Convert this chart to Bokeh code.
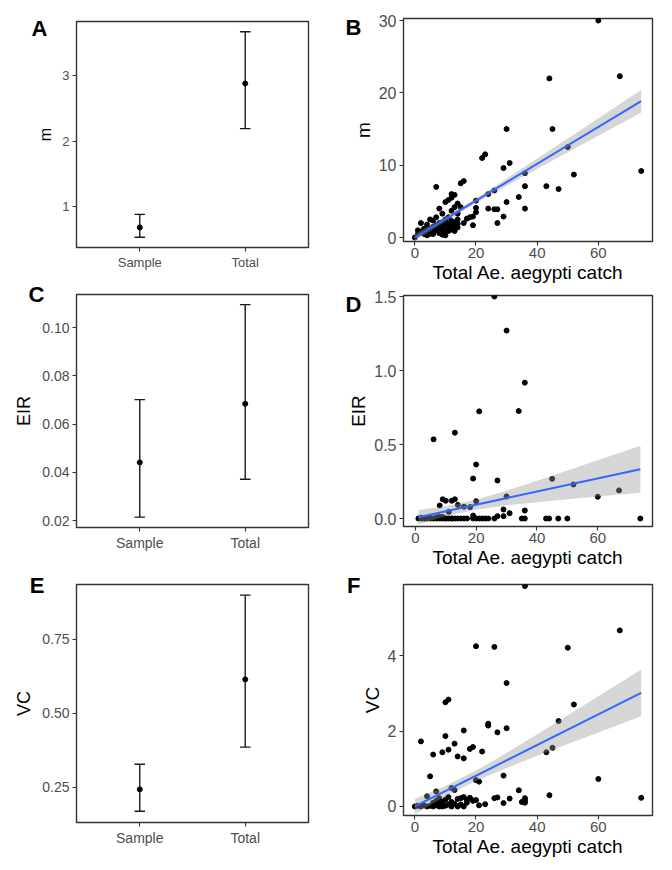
from bokeh.plotting import figure
from bokeh.models import Range1d, FixedTicker, PrintfTickFormatter, LinearAxis
from bokeh.layouts import row, column
from bokeh.embed import file_html
from bokeh.resources import INLINE

FONT = "Liberation Sans"
TICK_COLOR = "#4D4D4D"
FRAME = "#333333"

# ---------------- data: summary panels (A, C, E) ----------------
categories = ["Sample", "Total"]
cat_pos = [1, 2]

m_est = [0.68, 2.88]
m_low = [0.53, 2.19]
m_high = [0.88, 3.67]

eir_est = [0.0441, 0.0684]
eir_low = [0.0214, 0.0371]
eir_high = [0.0701, 0.1095]

vc_est = [0.243, 0.615]
vc_low = [0.169, 0.386]
vc_high = [0.328, 0.900]

# ---------------- data: scatter panels (B, D, F) ----------------
b_catch = [0, 1, 1, 2, 2, 3, 3, 3, 4, 4, 4, 5, 5, 5, 5, 6, 6, 6, 6, 7, 7, 7, 7, 8, 8, 8, 8, 8,
           9, 9, 9, 9, 9, 10, 10, 10, 10, 10, 11, 11, 11, 11, 11, 12, 12, 12, 12, 12, 12,
           13, 13, 13, 13, 13, 14, 14, 14, 14, 14, 15, 15, 16, 16, 17, 18, 19, 19, 20, 20, 20,
           22, 23, 24, 24, 26, 26, 27, 27, 29, 29, 30, 30, 31, 34, 36, 36, 36, 43, 44, 45, 47,
           50, 52, 60, 67, 74]
b_m = [0.0, 1.0, 0.5, 2.0, 0.8, 0.5, 1.2, 0.8, 1.0, 0.3, 1.8, 2.5, 1.2, 0.5, 0.9, 2.35, 0.5, 1.5, 0.9,
       7.0, 2.8, 1.0, 1.7, 4.0, 1.0, 2.0, 0.6, 1.4, 3.3, 2.1, 1.5, 0.9, 0.4, 4.9, 1.0, 2.5, 0.3, 1.8,
       5.2, 2.8, 1.4, 0.9, 1.9, 6.0, 5.5, 3.7, 1.1, 2.3, 1.6, 4.2, 2.1, 5.9, 1.5, 0.9,
       4.7, 3.3, 1.4, 2.5, 1.9, 7.5, 4.2, 7.8, 2.0, 2.6, 2.8, 2.9, 1.7, 3.5, 4.1, 5.1,
       11.0, 11.5, 4.0, 6.0, 3.9, 6.5, 3.9, 2.0, 2.9, 9.6, 4.9, 15.0, 10.3, 5.6, 4.0, 7.1, 8.9,
       7.1, 22.0, 15.0, 6.7, 12.5, 8.7, 30.0, 22.3, 9.2]

d_catch = [1, 2, 2, 3, 3, 4, 5, 5, 6, 6, 7, 7, 8, 8, 8, 9, 9, 9, 10, 10, 10, 11, 11, 12, 12, 12,
           13, 13, 13, 14, 14, 15, 16, 16, 17, 18, 19, 19, 19, 20, 20, 20, 21, 21, 22, 23, 24,
           26, 26, 27, 27, 29, 29, 30, 30, 31, 34, 35, 36, 36, 36, 43, 44, 45, 47, 50, 52, 60, 67, 74]
d_eir = [0.0, 0.0, 0.005, 0.0, 0.0, 0.0, 0.0, 0.005, 0.535, 0.0, 0.0, 0.008, 0.088, 0.0, 0.012,
         0.13, 0.0, 0.01, 0.12, 0.0, 0.0, 0.045, 0.0, 0.12, 0.0, 0.0, 0.58, 0.13, 0.0, 0.092, 0.0,
         0.0, 0.08, 0.0, 0.0, 0.077, 0.27, 0.02, 0.0, 0.365, 0.117, 0.0, 0.724, 0.0, 0.0, 0.0, 0.0,
         1.5, 0.0, 0.257, 0.016, 0.061, 0.016, 1.27, 0.149, 0.036, 0.726, 0.0, 0.918, 0.054, 0.0,
         0.0, 0.0, 0.268, 0.0, 0.0, 0.23, 0.147, 0.19, 0.0]

f_catch = [0, 1, 2, 2, 3, 4, 4, 5, 5, 6, 6, 6, 7, 7, 7, 8, 8, 8, 9, 9, 9, 10, 10, 10, 10,
           11, 11, 11, 11, 12, 12, 12, 13, 13, 13, 14, 14, 14, 15, 15, 16, 16, 16, 16, 17, 17, 18,
           18, 19, 19, 19, 20, 20, 20, 21, 21, 22, 23, 24, 24, 26, 26, 27, 27, 29, 29, 30, 30, 31,
           34, 35, 36, 36, 36, 36, 43, 44, 45, 47, 50, 52, 60, 67, 74]
f_vc = [0.0, 0.02, 0.0, 1.73, 0.03, 0.0, 0.27, 0.8, 0.02, 0.0, 1.38, 0.1, 0.4, 0.03, 0.15, 0.0,
        0.22, 0.08, 1.44, 0.0, 0.12, 1.87, 2.77, 0.02, 0.18, 2.84, 1.51, 0.05, 0.25, 0.49, 0.0,
        0.12, 0.44, 1.67, 0.07, 1.33, 0.0, 0.2, 0.22, 0.05, 2.02, 1.28, 0.0, 0.25, 0.1, 0.17, 1.53,
        0.23, 1.58, 0.16, 0.15, 4.26, 0.7, 0.17, 0.66, 0.03, 1.46, 0.06, 2.2, 2.15, 4.24, 0.22,
        0.24, 1.97, 0.82, 0.09, 3.28, 2.08, 0.21, 0.43, 0.12, 5.86, 0.15, 0.1, 0.22, 1.44, 0.3,
        1.56, 2.27, 4.22, 2.71, 0.73, 4.68, 0.23]

# fitted linear trends and 95% bands
b_fit_x = [0, 74]
b_fit_y = [0.0, 18.85]
b_band_x = [0, 10, 20, 30, 40, 50, 60, 74]
b_band_lo = [-0.49, 2.22, 4.76, 7.15, 9.47, 11.78, 14.07, 17.29]
b_band_hi = [0.49, 2.88, 5.42, 8.13, 10.91, 13.70, 16.49, 20.41]

d_fit_x = [1, 74]
d_fit_y = [0.009, 0.333]
d_band_x = [1, 10, 20, 30, 40, 50, 60, 74]
d_band_lo = [-0.039, 0.016, 0.060, 0.088, 0.110, 0.130, 0.149, 0.174]
d_band_hi = [0.057, 0.082, 0.126, 0.188, 0.255, 0.324, 0.394, 0.492]

f_fit_x = [0, 74]
f_fit_y = [0.0, 3.02]
f_band_x = [0, 10, 20, 30, 40, 50, 60, 74]
f_band_lo = [-0.20, 0.271, 0.679, 1.024, 1.345, 1.658, 1.969, 2.40]
f_band_hi = [0.20, 0.545, 0.953, 1.424, 1.919, 2.422, 2.929, 3.64]

x_title = "Total Ae. aegypti catch"
panel_letters = ["A", "B", "C", "D", "E", "F"]


def base_fig(w, h, bl, bt, br, bb, xr, yr, tick_px, label_px, label_standoff):
    p = figure(width=w, height=h, x_range=xr, y_range=yr, title=None,
               output_backend="svg", toolbar_location=None,
               min_border_left=bl, min_border_top=bt,
               min_border_right=br, min_border_bottom=bb)
    p.xgrid.visible = False
    p.ygrid.visible = False
    p.outline_line_color = FRAME
    p.outline_line_width = 1.4
    p.outline_line_alpha = 1.0
    p.background_fill_color = "white"
    p.border_fill_color = "white"
    for ax in (p.xaxis[0], p.yaxis[0]):
        ax.axis_line_color = None
        ax.major_tick_line_color = FRAME
        ax.major_tick_line_width = 1.1
        ax.major_tick_out = 4
        ax.major_tick_in = 0
        ax.minor_tick_line_color = None
        ax.major_label_text_color = TICK_COLOR
        ax.major_label_text_font = FONT
        ax.major_label_text_font_size = f"{tick_px}px"
        ax.major_label_standoff = 3
        ax.axis_label_text_font = FONT
        ax.axis_label_text_font_style = "normal"
        ax.axis_label_text_color = "black"
        ax.axis_label_text_font_size = f"{label_px}px"
        ax.axis_label_standoff = label_standoff
    return p


def add_letter(p, letter, y_range, frame_h, center_below_top, standoff):
    """Panel letter drawn as the only label of an extra (invisible) left axis."""
    y0, y1 = y_range
    t = y1 - center_below_top * (y1 - y0) / frame_h
    ax = LinearAxis(ticker=FixedTicker(ticks=[t]), major_label_overrides={t: letter})
    ax.axis_line_color = None
    ax.major_tick_line_color = None
    ax.minor_tick_line_color = None
    ax.major_tick_out = 0
    ax.major_tick_in = 0
    ax.major_label_standoff = standoff
    ax.major_label_text_font = FONT
    ax.major_label_text_font_style = "bold"
    ax.major_label_text_font_size = "22px"
    ax.major_label_text_color = "black"
    p.add_layout(ax, "left")


def summary_panel(w, h, bl, bt, br, bb, yr, yticks, fmt, ylabel, est, lo, hi,
                  letter, tick_px, label_px, letter_center, letter_standoff):
    p = base_fig(w, h, bl, bt, br, bb, Range1d(0.4, 2.6), Range1d(*yr), tick_px, label_px, 5)
    p.xaxis.ticker = FixedTicker(ticks=cat_pos)
    p.xaxis.major_label_overrides = {c: lab for c, lab in zip(cat_pos, categories)}
    p.yaxis.ticker = FixedTicker(ticks=yticks)
    if fmt:
        p.yaxis.formatter = PrintfTickFormatter(format=fmt)
    p.yaxis.axis_label = ylabel
    half = 0.05
    p.segment(x0=cat_pos, y0=lo, x1=cat_pos, y1=hi, line_color="#1a1a1a", line_width=1.4)
    p.segment(x0=[c - half for c in cat_pos], y0=lo, x1=[c + half for c in cat_pos], y1=lo,
              line_color="#1a1a1a", line_width=1.4)
    p.segment(x0=[c - half for c in cat_pos], y0=hi, x1=[c + half for c in cat_pos], y1=hi,
              line_color="#1a1a1a", line_width=1.4)
    p.scatter(cat_pos, est, size=5, color="black")
    add_letter(p, letter, yr, h - bt - bb, letter_center, letter_standoff)
    return p


def scatter_panel(w, h, bl, bt, br, bb, xr, yr, yticks, fmt, ylabel, xs, ys,
                  fx, fy, bx, blo, bhi, letter, letter_center, letter_standoff):
    p = base_fig(w, h, bl, bt, br, bb, Range1d(*xr), Range1d(*yr), 15, 19, 2)
    p.yaxis.major_label_text_font_size = "16px"
    p.xaxis.ticker = FixedTicker(ticks=[0, 20, 40, 60])
    p.yaxis.ticker = FixedTicker(ticks=yticks)
    if fmt:
        p.yaxis.formatter = PrintfTickFormatter(format=fmt)
    p.yaxis.axis_label = ylabel
    p.xaxis.axis_label = x_title
    p.xaxis.axis_label_standoff = 1
    p.xaxis.major_label_standoff = 2
    p.scatter(xs, ys, size=5, color="black")
    p.varea(x=bx, y1=blo, y2=bhi, fill_color="#999999", fill_alpha=0.4)
    p.line(fx, fy, line_color="#3366FF", line_width=2)
    add_letter(p, letter, yr, h - bt - bb, letter_center, letter_standoff)
    return p


# left column: x from 0 to 336
pA = summary_panel(336, 275, 73, 21, 24, 28, (0.373, 3.827), [1, 2, 3], None, "m",
                   m_est, m_low, m_high, panel_letters[0], 13, 16, 7, -13)
pC = summary_panel(336, 285, 75, 19, 26, 33, (0.0171, 0.1137), [0.02, 0.04, 0.06, 0.08, 0.10],
                   "%.2f", "EIR", eir_est, eir_low, eir_high, panel_letters[2], 14, 18, 0.2, -33)
pE = summary_panel(336, 310, 76, 24, 28, 48, (0.131, 0.936), [0.25, 0.50, 0.75], "%.2f", "VC",
                   vc_est, vc_low, vc_high, panel_letters[4], 14, 18, 1, -33)

# right column: x from 336 to 672
pB = scatter_panel(336, 287, 63, 18, 20, 46, (-3.7, 77.7), (-0.55, 30.28), [0, 10, 20, 30], None,
                   "m", b_catch, b_m, b_fit_x, b_fit_y, b_band_x, b_band_lo, b_band_hi,
                   panel_letters[1], 9, -12)
pD = scatter_panel(336, 284, 62, 8, 17, 45, (-3.9, 78.0), (-0.054, 1.507), [0.0, 0.5, 1.0, 1.5],
                   "%.1f", "EIR", d_catch, d_eir, d_fit_x, d_fit_y, d_band_x, d_band_lo, d_band_hi,
                   panel_letters[3], 0.2, -16)
pF = scatter_panel(336, 299, 67, 13, 2, 55, (-3.7, 77.7), (-0.24, 5.9), [0, 2, 4], None,
                   "VC", f_catch, f_vc, f_fit_x, f_fit_y, f_band_x, f_band_lo, f_band_hi,
                   panel_letters[5], 1, -2)

layout = row(column(pA, pC, pE), column(pB, pD, pF))

open("out.html", "w").write(file_html(layout, INLINE))
